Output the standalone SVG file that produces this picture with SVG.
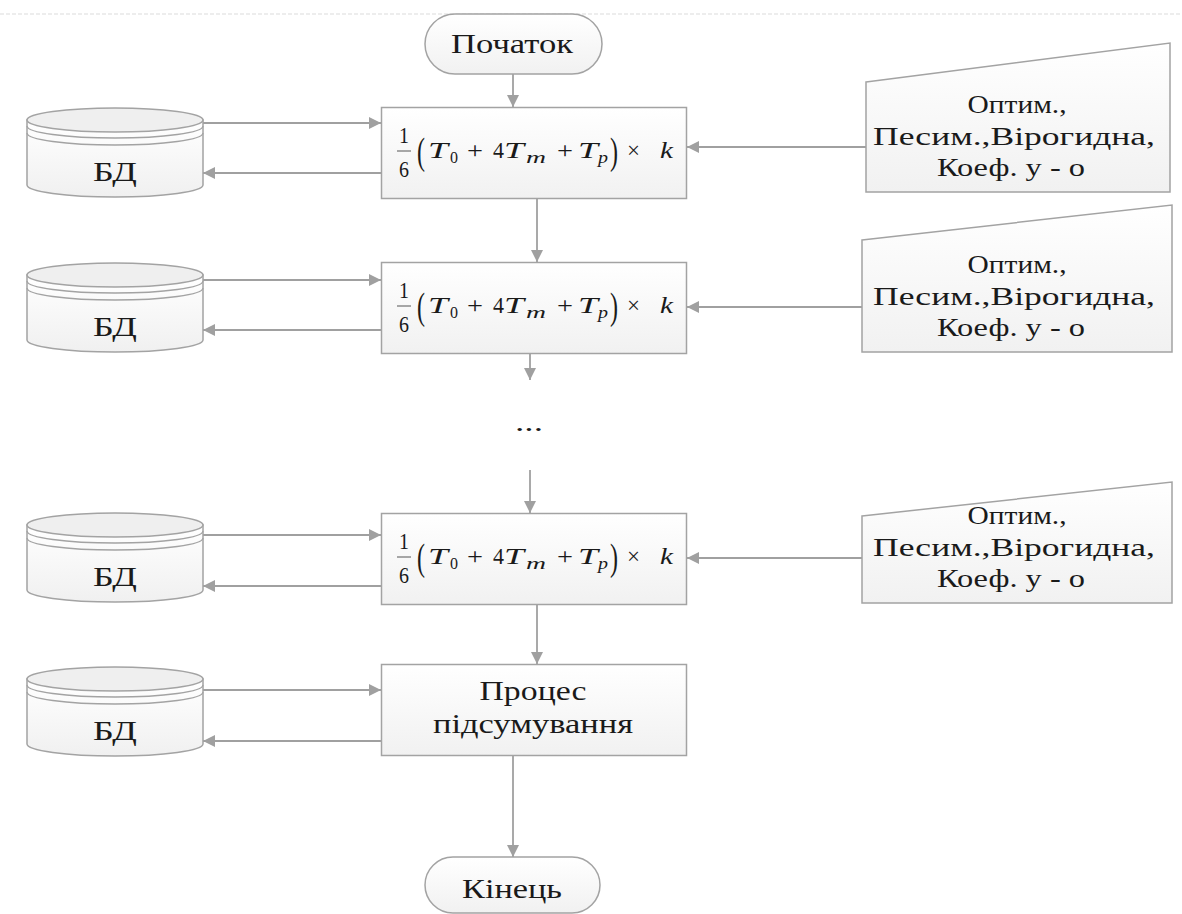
<svg xmlns="http://www.w3.org/2000/svg" width="1182" height="914" viewBox="0 0 1182 914">
<style>
.sh{stroke:#a3a3a3;stroke-width:1.5}
.box{fill:url(#gBox)}
.term{fill:url(#gBox)}
.cylbody{fill:url(#gCyl)}
.cyltop{fill:#efefef}
.arc{fill:none;stroke:#a3a3a3;stroke-width:1.3}
.t{font-family:"Liberation Serif","Times New Roman",serif;fill:#1a1a1a}
.lbl{font-size:27px;text-anchor:middle}
.big{font-size:28px;text-anchor:middle}
.inp{font-size:25px;text-anchor:middle}
.m{font-family:"Liberation Serif","Times New Roman",serif;fill:#1a1a1a;font-size:23px}
.mi{font-style:italic}
.sub{font-size:16px}
.par{font-size:38px}
.con{fill:none;stroke:#a0a0a0;stroke-width:1.8}
</style>
<defs>
<linearGradient id="gBox" x1="0" y1="0" x2="0" y2="1">
<stop offset="0" stop-color="#ffffff"/>
<stop offset="1" stop-color="#f1f1f1"/>
</linearGradient>
<linearGradient id="gCyl" x1="0" y1="0" x2="0" y2="1">
<stop offset="0" stop-color="#ffffff"/>
<stop offset="1" stop-color="#f0f0f0"/>
</linearGradient>
<marker id="ah" viewBox="0 0 12 12" refX="12" refY="6" markerWidth="12" markerHeight="12" markerUnits="userSpaceOnUse" orient="auto">
<path d="M0,0 L12,6 L0,12 Z" fill="#a0a0a0"/>
</marker>
</defs>

<line x1="0" y1="14" x2="1182" y2="14" stroke="#dcdcdc" stroke-width="1.2" stroke-dasharray="4 2"/>

<g id="connectors">
<path class="con" d="M513,74 L513,107" marker-end="url(#ah)"/>
<path class="con" d="M203,123 L381,123" marker-end="url(#ah)"/>
<path class="con" d="M381,173 L203,173" marker-end="url(#ah)"/>
<path class="con" d="M866,147 L687,147" marker-end="url(#ah)"/>
<path class="con" d="M537,198 L537,262" marker-end="url(#ah)"/>
<path class="con" d="M203,280 L381,280" marker-end="url(#ah)"/>
<path class="con" d="M381,330 L203,330" marker-end="url(#ah)"/>
<path class="con" d="M862,307 L687,307" marker-end="url(#ah)"/>
<path class="con" d="M530,353 L530,380" marker-end="url(#ah)"/>
<path class="con" d="M530,470 L530,513" marker-end="url(#ah)"/>
<path class="con" d="M203,535 L381,535" marker-end="url(#ah)"/>
<path class="con" d="M381,586 L203,586" marker-end="url(#ah)"/>
<path class="con" d="M862,558 L687,558" marker-end="url(#ah)"/>
<path class="con" d="M537,603 L537,664" marker-end="url(#ah)"/>
<path class="con" d="M203,690 L381,690" marker-end="url(#ah)"/>
<path class="con" d="M381,741 L203,741" marker-end="url(#ah)"/>
<path class="con" d="M513,755 L513,857" marker-end="url(#ah)"/>
</g>

<g id="start">
<rect class="term sh" x="425" y="14" width="177" height="60" rx="30" ry="30"/>
<text class="t big" x="512" y="53" textLength="122" lengthAdjust="spacingAndGlyphs">Початок</text>
</g>

<g id="db1" transform="translate(0,108)">
<path class="cylbody sh" d="M27,12 L27,77 A88,12 0 0 0 203,77 L203,12 Z"/>
<ellipse class="cyltop sh" cx="115" cy="12" rx="88" ry="12"/>
<path class="arc" d="M27,18 A88,12 0 0 0 203,18"/>
<path class="arc" d="M27,25 A88,12 0 0 0 203,25"/>
<text class="t lbl" x="115" y="73" textLength="44" lengthAdjust="spacingAndGlyphs">БД</text>
</g>
<g id="db2" transform="translate(0,263)">
<path class="cylbody sh" d="M27,12 L27,77 A88,12 0 0 0 203,77 L203,12 Z"/>
<ellipse class="cyltop sh" cx="115" cy="12" rx="88" ry="12"/>
<path class="arc" d="M27,18 A88,12 0 0 0 203,18"/>
<path class="arc" d="M27,25 A88,12 0 0 0 203,25"/>
<text class="t lbl" x="115" y="73" textLength="44" lengthAdjust="spacingAndGlyphs">БД</text>
</g>
<g id="db3" transform="translate(0,513)">
<path class="cylbody sh" d="M27,12 L27,77 A88,12 0 0 0 203,77 L203,12 Z"/>
<ellipse class="cyltop sh" cx="115" cy="12" rx="88" ry="12"/>
<path class="arc" d="M27,18 A88,12 0 0 0 203,18"/>
<path class="arc" d="M27,25 A88,12 0 0 0 203,25"/>
<text class="t lbl" x="115" y="73" textLength="44" lengthAdjust="spacingAndGlyphs">БД</text>
</g>
<g id="db4" transform="translate(0,667)">
<path class="cylbody sh" d="M27,12 L27,77 A88,12 0 0 0 203,77 L203,12 Z"/>
<ellipse class="cyltop sh" cx="115" cy="12" rx="88" ry="12"/>
<path class="arc" d="M27,18 A88,12 0 0 0 203,18"/>
<path class="arc" d="M27,25 A88,12 0 0 0 203,25"/>
<text class="t lbl" x="115" y="73" textLength="44" lengthAdjust="spacingAndGlyphs">БД</text>
</g>

<g id="calc1">
<rect class="box sh" x="381.5" y="107.5" width="305" height="91"/>
<text class="m" x="399" y="143" textLength="10" lengthAdjust="spacingAndGlyphs">1</text>
<line x1="397" y1="151" x2="411" y2="151" stroke="#555" stroke-width="1"/>
<text class="m" x="399" y="177" textLength="10" lengthAdjust="spacingAndGlyphs">6</text>
<text class="m par" x="417" y="164" textLength="8" lengthAdjust="spacingAndGlyphs">(</text>
<text class="m mi" x="428" y="158" textLength="20" lengthAdjust="spacingAndGlyphs">T</text>
<text class="m sub" x="450" y="163" textLength="8" lengthAdjust="spacingAndGlyphs">0</text>
<text class="m" x="467" y="158" textLength="16" lengthAdjust="spacingAndGlyphs">+</text>
<text class="m" x="493" y="158" textLength="11" lengthAdjust="spacingAndGlyphs">4</text>
<text class="m mi" x="504" y="158" textLength="20" lengthAdjust="spacingAndGlyphs">T</text>
<text class="m sub mi" x="526" y="163" textLength="20" lengthAdjust="spacingAndGlyphs">m</text>
<text class="m" x="557" y="158" textLength="16" lengthAdjust="spacingAndGlyphs">+</text>
<text class="m mi" x="578" y="158" textLength="20" lengthAdjust="spacingAndGlyphs">T</text>
<text class="m sub mi" x="598" y="163" textLength="10" lengthAdjust="spacingAndGlyphs">p</text>
<text class="m par" x="610" y="164" textLength="8" lengthAdjust="spacingAndGlyphs">)</text>
<text class="m" x="627" y="158" textLength="13" lengthAdjust="spacingAndGlyphs">×</text>
<text class="m mi" x="660" y="158" textLength="13" lengthAdjust="spacingAndGlyphs">k</text>
</g>

<g id="calc2" transform="translate(0,155)">
<rect class="box sh" x="381.5" y="107.5" width="305" height="91"/>
<text class="m" x="399" y="143" textLength="10" lengthAdjust="spacingAndGlyphs">1</text>
<line x1="397" y1="151" x2="411" y2="151" stroke="#555" stroke-width="1"/>
<text class="m" x="399" y="177" textLength="10" lengthAdjust="spacingAndGlyphs">6</text>
<text class="m par" x="417" y="164" textLength="8" lengthAdjust="spacingAndGlyphs">(</text>
<text class="m mi" x="428" y="158" textLength="20" lengthAdjust="spacingAndGlyphs">T</text>
<text class="m sub" x="450" y="163" textLength="8" lengthAdjust="spacingAndGlyphs">0</text>
<text class="m" x="467" y="158" textLength="16" lengthAdjust="spacingAndGlyphs">+</text>
<text class="m" x="493" y="158" textLength="11" lengthAdjust="spacingAndGlyphs">4</text>
<text class="m mi" x="504" y="158" textLength="20" lengthAdjust="spacingAndGlyphs">T</text>
<text class="m sub mi" x="526" y="163" textLength="20" lengthAdjust="spacingAndGlyphs">m</text>
<text class="m" x="557" y="158" textLength="16" lengthAdjust="spacingAndGlyphs">+</text>
<text class="m mi" x="578" y="158" textLength="20" lengthAdjust="spacingAndGlyphs">T</text>
<text class="m sub mi" x="598" y="163" textLength="10" lengthAdjust="spacingAndGlyphs">p</text>
<text class="m par" x="610" y="164" textLength="8" lengthAdjust="spacingAndGlyphs">)</text>
<text class="m" x="627" y="158" textLength="13" lengthAdjust="spacingAndGlyphs">×</text>
<text class="m mi" x="660" y="158" textLength="13" lengthAdjust="spacingAndGlyphs">k</text>
</g>

<g id="calc3" transform="translate(0,406)">
<rect class="box sh" x="381.5" y="107.5" width="305" height="91"/>
<text class="m" x="399" y="143" textLength="10" lengthAdjust="spacingAndGlyphs">1</text>
<line x1="397" y1="151" x2="411" y2="151" stroke="#555" stroke-width="1"/>
<text class="m" x="399" y="177" textLength="10" lengthAdjust="spacingAndGlyphs">6</text>
<text class="m par" x="417" y="164" textLength="8" lengthAdjust="spacingAndGlyphs">(</text>
<text class="m mi" x="428" y="158" textLength="20" lengthAdjust="spacingAndGlyphs">T</text>
<text class="m sub" x="450" y="163" textLength="8" lengthAdjust="spacingAndGlyphs">0</text>
<text class="m" x="467" y="158" textLength="16" lengthAdjust="spacingAndGlyphs">+</text>
<text class="m" x="493" y="158" textLength="11" lengthAdjust="spacingAndGlyphs">4</text>
<text class="m mi" x="504" y="158" textLength="20" lengthAdjust="spacingAndGlyphs">T</text>
<text class="m sub mi" x="526" y="163" textLength="20" lengthAdjust="spacingAndGlyphs">m</text>
<text class="m" x="557" y="158" textLength="16" lengthAdjust="spacingAndGlyphs">+</text>
<text class="m mi" x="578" y="158" textLength="20" lengthAdjust="spacingAndGlyphs">T</text>
<text class="m sub mi" x="598" y="163" textLength="10" lengthAdjust="spacingAndGlyphs">p</text>
<text class="m par" x="610" y="164" textLength="8" lengthAdjust="spacingAndGlyphs">)</text>
<text class="m" x="627" y="158" textLength="13" lengthAdjust="spacingAndGlyphs">×</text>
<text class="m mi" x="660" y="158" textLength="13" lengthAdjust="spacingAndGlyphs">k</text>
</g>

<g id="input1">
<path class="box sh" d="M866,82 L1170,43 L1170,192 L866,192 Z"/>
<text class="t inp" x="1017" y="113" textLength="99" lengthAdjust="spacingAndGlyphs">Оптим.,</text>
<text class="t inp" x="1014" y="145" textLength="282" lengthAdjust="spacingAndGlyphs">Песим.,Вірогидна,</text>
<text class="t inp" x="1011" y="176" textLength="148" lengthAdjust="spacingAndGlyphs">Коеф. у - о</text>
</g>
<g id="input2">
<path class="box sh" d="M862,240 L1172,205 L1172,352 L862,352 Z"/>
<text class="t inp" x="1017" y="273" textLength="99" lengthAdjust="spacingAndGlyphs">Оптим.,</text>
<text class="t inp" x="1014" y="305" textLength="282" lengthAdjust="spacingAndGlyphs">Песим.,Вірогидна,</text>
<text class="t inp" x="1011" y="336" textLength="148" lengthAdjust="spacingAndGlyphs">Коеф. у - о</text>
</g>
<g id="input3">
<path class="box sh" d="M862,516 L1172,482 L1172,603 L862,603 Z"/>
<text class="t inp" x="1017" y="524" textLength="99" lengthAdjust="spacingAndGlyphs">Оптим.,</text>
<text class="t inp" x="1014" y="556" textLength="282" lengthAdjust="spacingAndGlyphs">Песим.,Вірогидна,</text>
<text class="t inp" x="1011" y="587" textLength="148" lengthAdjust="spacingAndGlyphs">Коеф. у - о</text>
</g>

<g id="ellipsis">
<text class="t" x="529" y="431" font-size="26" text-anchor="middle" textLength="28" lengthAdjust="spacingAndGlyphs">...</text>
</g>

<g id="sum">
<rect class="box sh" x="381.5" y="664.5" width="305" height="91"/>
<text class="t lbl" x="533" y="700" textLength="107" lengthAdjust="spacingAndGlyphs">Процес</text>
<text class="t lbl" x="533" y="733" textLength="200" lengthAdjust="spacingAndGlyphs">підсумування</text>
</g>

<g id="end">
<rect class="term sh" x="425" y="857" width="175" height="56" rx="28" ry="28"/>
<text class="t big" x="512" y="898" textLength="100" lengthAdjust="spacingAndGlyphs">Кінець</text>
</g>
</svg>
